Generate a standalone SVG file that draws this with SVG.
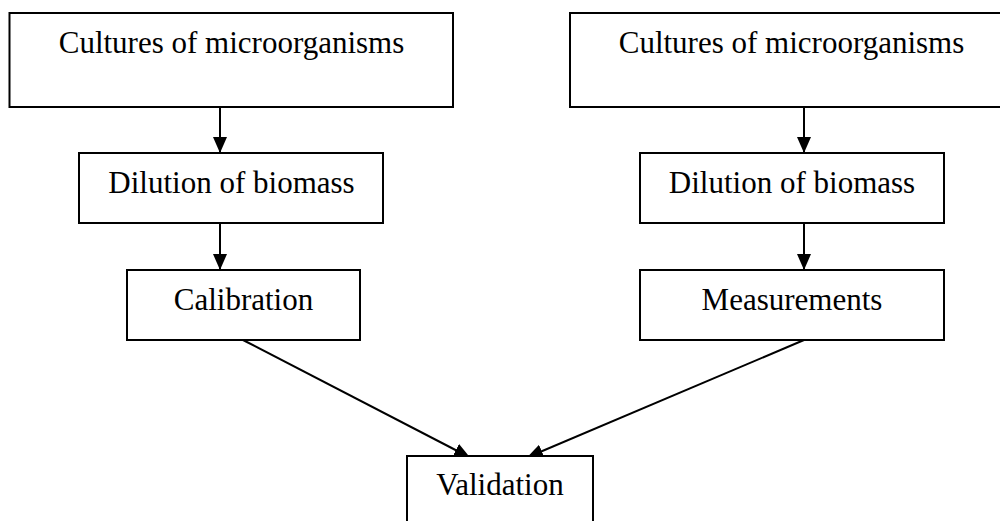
<svg xmlns="http://www.w3.org/2000/svg" width="1000" height="521" viewBox="0 0 1000 521">
<style>
.box{fill:#fff;stroke:#000;stroke-width:2}
.t{font-family:"Liberation Serif","Times New Roman",serif;font-size:31px;fill:#000;text-anchor:middle}
.c{stroke:#000;stroke-width:2;fill:none;marker-end:url(#ah)}
</style>
<defs>
<marker id="ah" markerUnits="userSpaceOnUse" markerWidth="16" markerHeight="14" refX="16" refY="7" orient="auto">
<path d="M0,0 L16,7 L0,14 Z" fill="#000"/>
</marker>
</defs>
<rect width="1000" height="521" fill="#fff"/>
<g id="connectors">
<line class="c" x1="220" y1="107" x2="220" y2="153"/>
<line class="c" x1="220" y1="223" x2="220" y2="270"/>
<line class="c" x1="804" y1="107" x2="804" y2="153"/>
<line class="c" x1="804" y1="223" x2="804" y2="270"/>
<line class="c" x1="243" y1="340" x2="470" y2="457.5"/>
<line class="c" x1="804" y1="340" x2="527" y2="457.5"/>
</g>
<g id="n1"><rect class="box" x="9.5" y="13" width="443.5" height="94"/><text class="t" x="231.5" y="53">Cultures of microorganisms</text></g>
<g id="n2"><rect class="box" x="570" y="13" width="444" height="94"/><text class="t" x="791.5" y="53">Cultures of microorganisms</text></g>
<g id="n3"><rect class="box" x="79" y="153" width="304" height="70"/><text class="t" x="231.5" y="193">Dilution of biomass</text></g>
<g id="n4"><rect class="box" x="640" y="153" width="304" height="70"/><text class="t" x="792" y="193">Dilution of biomass</text></g>
<g id="n5"><rect class="box" x="127" y="270" width="233" height="70"/><text class="t" x="243.5" y="310">Calibration</text></g>
<g id="n6"><rect class="box" x="640" y="270" width="304" height="70"/><text class="t" x="792" y="310">Measurements</text></g>
<g id="n7"><rect class="box" x="407" y="456" width="186" height="80"/><text class="t" x="500" y="495">Validation</text></g>
</svg>
